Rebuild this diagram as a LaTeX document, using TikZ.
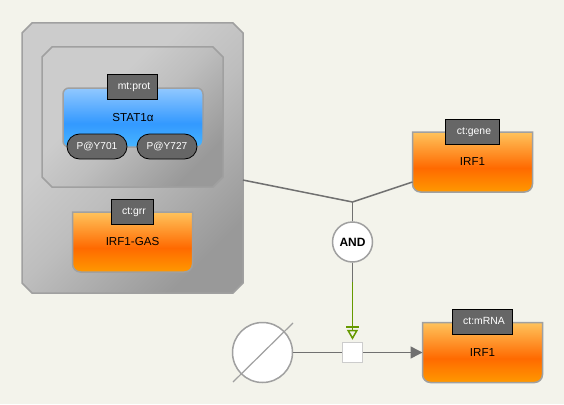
\documentclass[tikz,border=0pt]{standalone}
\usepackage{fontspec}
\setmainfont{Liberation Sans}
\usetikzlibrary{arrows.meta,shapes.misc}
\definecolor{paper}{HTML}{F3F3EB}
\definecolor{rimgrey}{HTML}{A0A0A0}
\definecolor{linegrey}{HTML}{707070}
\definecolor{tagfill}{HTML}{666666}
\definecolor{modgreen}{HTML}{669900}
\definecolor{cpxdark}{HTML}{999999}
\definecolor{cpxmid}{HTML}{BEBEBE}
\definecolor{cpxlight}{HTML}{CCCCCC}
\definecolor{protlow}{HTML}{47B5FF}
\definecolor{protmid}{HTML}{3399FF}
\definecolor{prottop}{HTML}{91C8FF}
\definecolor{ntlow}{HTML}{FF9900}
\definecolor{ntmid}{HTML}{FF6A00}
\definecolor{nttop}{HTML}{FFC35C}
\pgfdeclareverticalshading{cpxshade}{100bp}{color(0bp)=(cpxdark); color(25bp)=(cpxdark); color(48bp)=(cpxmid); color(62bp)=(cpxlight); color(100bp)=(cpxlight)}
\pgfdeclareverticalshading{protshade}{100bp}{color(0bp)=(protlow); color(25bp)=(protlow); color(45bp)=(protmid); color(75bp)=(prottop); color(100bp)=(prottop)}
\pgfdeclareverticalshading{ntshade}{100bp}{color(0bp)=(ntlow); color(25bp)=(ntlow); color(45bp)=(ntmid); color(75bp)=(nttop); color(100bp)=(nttop)}
\tikzset{
  conn/.style={draw=linegrey,line width=1.5pt},
  rim/.style={draw=rimgrey,line width=1.5pt},
  prot/.style={rectangle,rounded corners=6pt,rim,shade,shading=protshade,minimum width=140pt,minimum height=59pt,inner sep=0pt,font=\fontsize{11.6}{13}\selectfont},
  ntlabel/.style={minimum width=120pt,minimum height=60pt,inner sep=0pt,outer sep=0pt,font=\fontsize{11.6}{13}\selectfont},
  tag/.style={rectangle,draw=black,line width=0.8pt,fill=tagfill,text=white,minimum height=25pt,inner sep=0pt,text height=7pt,text depth=2pt,font=\fontsize{10.4}{12}\selectfont},
  stateval/.style={rounded rectangle,draw=black,line width=0.8pt,fill=tagfill,text=white,minimum width=60pt,minimum height=25pt,inner sep=0pt,font=\fontsize{10.1}{12}\selectfont},
}
\newcommand{\ntbox}[3]{
  \path[rim,shade,shading=ntshade] ([shift={(-60,-30)}]#2) -- ++(120,0) [rounded corners=8pt] -- ++(0,60) -- ++(-120,0) [sharp corners] -- cycle;
  \node[ntlabel] (#1) at (#2) {#3};
}
\newcommand{\cpxglyph}[5]{
  \path[rim,shade,shading=cpxshade,shading angle=45]
    ({#2-#4+10},{#3-#5}) -- ({#2+#4-10},{#3-#5}) -- ({#2+#4},{#3-#5+10}) -- ({#2+#4},{#3+#5-10}) -- ({#2+#4-10},{#3+#5}) -- ({#2-#4+10},{#3+#5}) -- ({#2-#4},{#3+#5-10}) -- ({#2-#4},{#3-#5+10}) -- cycle;
  \node[minimum width={2*#4},minimum height={2*#5},inner sep=0pt,outer sep=0pt] (#1) at (#2,#3) {};
}
\begin{document}
\begin{tikzpicture}[x=1pt,y=-1pt]
\useasboundingbox (0,0) rectangle (564,404);
\fill[paper] (0,0) rectangle (564,404);
\cpxglyph{complexouter}{132.5}{158}{110.5}{135}
\cpxglyph{complexinner}{132.5}{117}{90.5}{70}
\node[prot] (stat) at (133,117.5) {STAT1α};
\node[tag,minimum width=50pt] (mtprot) at (132,86.5) {\hspace{4pt}mt:prot};
\node[stateval] (py701) at (97,146.5) {P@Y701};
\node[stateval] (py727) at (167,146.5) {P@Y727};
\ntbox{irfgas}{132.5,242}{IRF1-GAS}
\node[tag,minimum width=42pt] (ctgrr) at (132,211.5) {\hspace{4pt}ct:grr};
\ntbox{irfgene}{472.5,162}{IRF1}
\node[tag,minimum width=54pt] (ctgene) at (472,131.5) {\hspace{4pt}ct:gene};
\ntbox{irfrna}{482.5,352.5}{IRF1}
\node[tag,minimum width=60pt] (ctrna) at (482,322) {\hspace{4pt}ct:mRNA};
\coordinate (junction) at (352.5,202);
\coordinate (andlow) at (352.5,282);
\coordinate (barl) at (346,327);
\coordinate (barr) at (359,327);
\coordinate (slasha) at (233,382);
\coordinate (slashb) at (293,323);
\node[circle,rim,fill=white,minimum size=40pt,inner sep=0pt,font=\fontsize{12}{14}\bfseries\selectfont] (andgate) at (352.5,242) {AND};
\node[circle,rim,fill=white,minimum size=60pt,inner sep=0pt] (sink) at (262.5,352.5) {};
\node[rectangle,draw=black!20,line width=1.5pt,fill=white,minimum size=20pt,inner sep=0pt] (proc) at (352.5,352.5) {};
\draw[rimgrey,line width=1.2pt] (slasha) -- (slashb);
\draw[conn] (complexouter) -- (junction);
\draw[conn] (irfgene) -- (junction);
\draw[conn] (junction) -- (andgate);
\draw[conn] (andgate) -- (andlow);
\draw[modgreen,line width=1.5pt,shorten >=2pt,-{Triangle[open,length=10pt,width=11pt]}] (andlow) -- (proc);
\draw[modgreen,line width=1.2pt] (barl) -- (barr);
\draw[conn] (sink) -- (proc);
\draw[conn,-{Triangle[length=12pt,width=12pt]},linegrey] (proc) -- (irfrna);
\end{tikzpicture}
\end{document}
